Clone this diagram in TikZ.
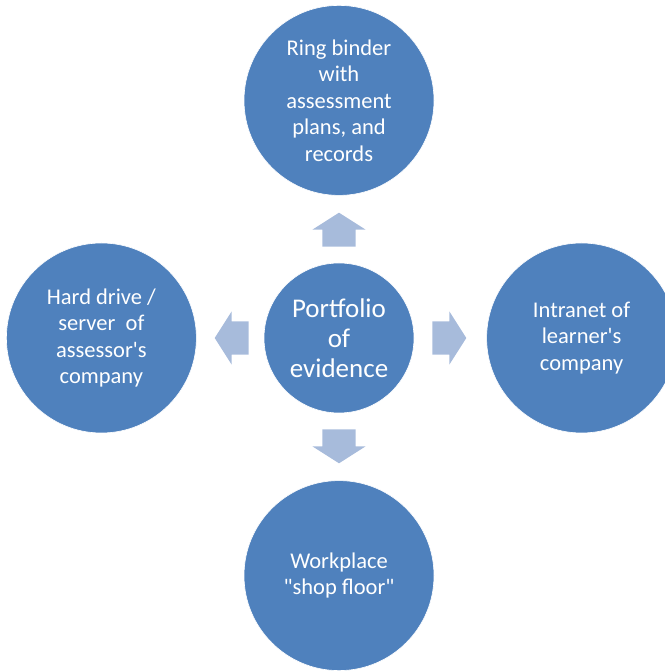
\documentclass[tikz,border=0pt]{standalone}
\usepackage{fontspec}
\setmainfont{Carlito}
\usetikzlibrary{positioning,calc,shapes.arrows}
\definecolor{circleblue}{RGB}{79,129,189}
\definecolor{arrowblue}{RGB}{167,187,219}
\tikzset{
  hub/.style={circle, fill=circleblue, draw=white, line width=0.6pt, text=white,
    minimum size=150pt, inner sep=0pt, align=center, font=\fontsize{27}{30}\selectfont},
  spoke/.style={circle, fill=circleblue, draw=white, line width=0.6pt, text=white,
    minimum size=190pt, inner sep=0pt, align=center, font=\fontsize{22.5}{26.5}\selectfont},
  blockarrow/.style={single arrow, fill=arrowblue, draw=none, minimum height=34pt,
    inner xsep=0pt, inner ysep=16.5pt, single arrow head extend=10pt,
    single arrow tip angle=115, outer sep=0pt, anchor=tail}
}
\begin{document}
\begin{tikzpicture}[x=1pt,y=1pt]
        \useasboundingbox (0,0) rectangle (664,671);
        % the circles
        \node[hub]   (portfolio) at (339,333) {Portfolio\\of\\evidence};
        \node[spoke, above=67pt of portfolio] (ringbinder) {Ring binder\\with\\assessment\\plans, and\\records};
        \node[spoke, left=67pt of portfolio]  (harddrive)  {Hard drive /\\server\ \ of\\assessor\textquotesingle s\\company};
        \node[spoke, right=72pt of portfolio] (intranet)   {Intranet of\\learner\textquotesingle s\\company};
        \node[spoke, below=67pt of portfolio] (workplace)  {Workplace\\\textquotedbl shop floor\textquotedbl};
        % the block arrows
        \node[blockarrow, rotate=90]  (toringbinder) at ($(portfolio.north)+(0,16)$)  {};
        \node[blockarrow, rotate=180] (toharddrive)  at ($(portfolio.west)+(-15,0)$)  {};
        \node[blockarrow]             (tointranet)   at ($(portfolio.east)+(18,0)$)   {};
        \node[blockarrow, rotate=270] (toworkplace)  at ($(portfolio.south)+(0,-16)$) {};
\end{tikzpicture}
\end{document}
